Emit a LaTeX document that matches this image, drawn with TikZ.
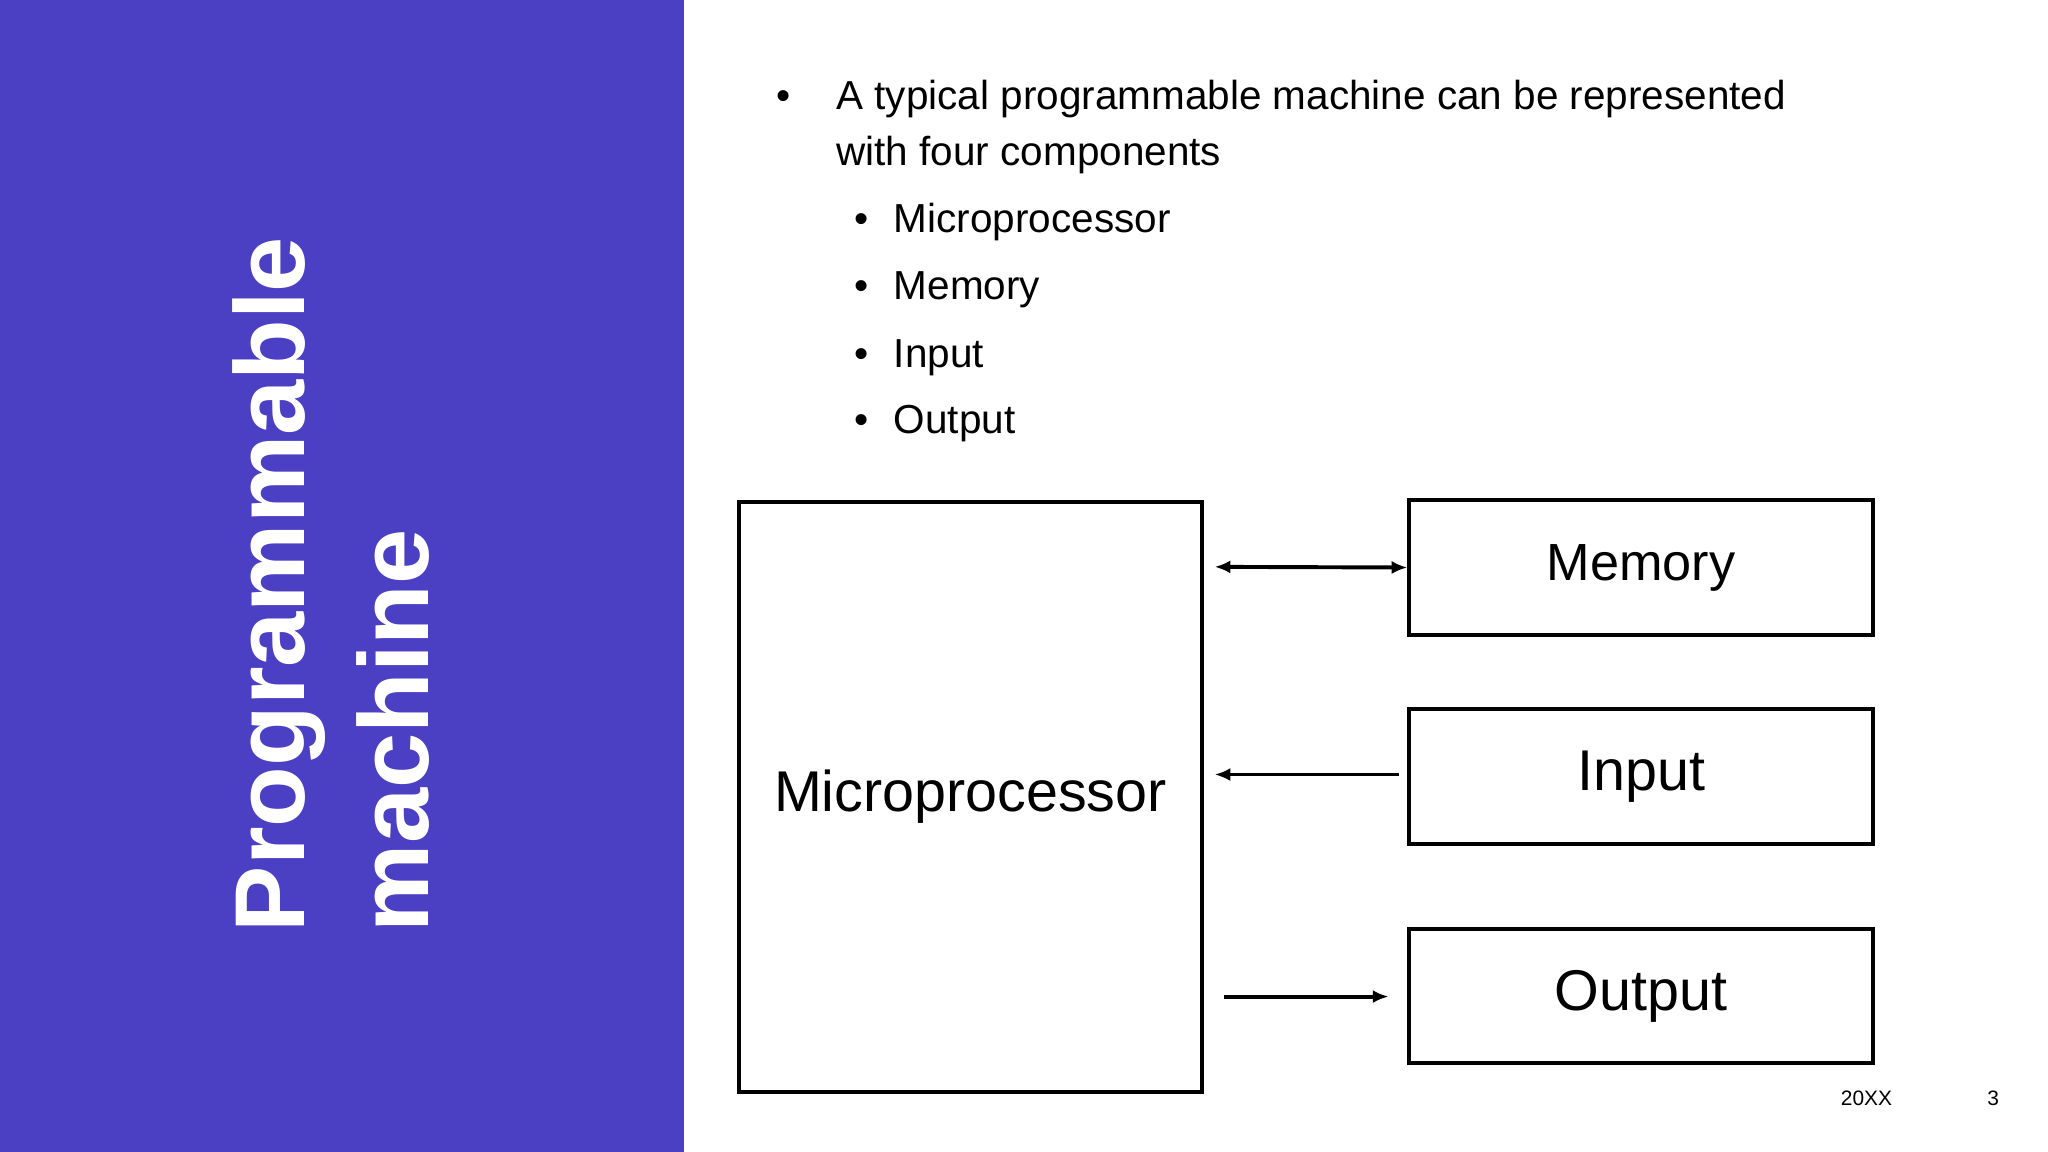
\documentclass[tikz,border=0pt]{standalone}
\usepackage{fontspec}
\setmainfont{Liberation Sans}
\usetikzlibrary{arrows.meta}
\definecolor{panel}{HTML}{4B3FC4}
\begin{document}
\begin{tikzpicture}[x=0.5pt,y=-0.5pt,
  box/.style={draw=black,line width=1.5pt,inner sep=0pt},
  con/.style={line width=1.5pt,-{Latex[length=6pt,width=5pt]}},
  bul/.style={anchor=base west,inner sep=0pt,font=\fontsize{15.5}{18}\selectfont},
  ttl/.style={rotate=90,anchor=base west,inner sep=0pt,text=white,font=\fontsize{38}{44}\bfseries\selectfont}]
\useasboundingbox (0,0) rectangle (1568,882);
\fill[white] (0,0) rectangle (1568,882);
\fill[panel] (0,0) rectangle (524,882);
\node[ttl] (t1) at (233,714) {Programmable};
\node[ttl] (t2) at (328,714) {machine};
\node[bul] (b0) at (594,84) {•};
\node[bul] (l1) at (640,84) {A typical programmable machine can be represented};
\node[bul] (l2) at (640,127) {with four components};
\node[bul] (s1d) at (654,178) {•};\node[bul] (s1) at (684,178) {Microprocessor};
\node[bul] (s2d) at (654,229) {•};\node[bul] (s2) at (684,229) {Memory};
\node[bul] (s3d) at (654,281) {•};\node[bul] (s3) at (684,281) {Input};
\node[bul] (s4d) at (654,332) {•};\node[bul] (s4) at (684,332) {Output};
\node[box,minimum width=177pt,minimum height=226pt,font=\fontsize{22}{26}\selectfont] (mp) at (743,610) {Microprocessor};
\node[box,minimum width=177.5pt,minimum height=51.5pt,font=\fontsize{20}{24}\selectfont] (mem) at (1256.5,434.5) {Memory};
\node[box,minimum width=177.5pt,minimum height=51.5pt,font=\fontsize{22}{26}\selectfont] (in) at (1256.5,594.5) {Input};
\node[box,minimum width=177.5pt,minimum height=51.5pt,font=\fontsize{22}{26}\selectfont] (out) at (1256.5,762.5) {Output};
\coordinate (a1) at (930,434);
\coordinate (a2) at (930,593);\coordinate (a2s) at (1071,593);
\coordinate (a3) at (937,763);\coordinate (a3e) at (1063,763);
\draw[con,{Latex[length=6pt,width=5pt]}-{Latex[length=6pt,width=5pt]}] (a1) -- (mem.west);
\draw[con] (a2s) -- (a2);
\draw[con] (a3) -- (a3e);
\node[inner sep=0pt,font=\fontsize{8}{10}\selectfont] (f1) at (1429,841) {20XX};
\node[inner sep=0pt,font=\fontsize{8}{10}\selectfont] (f2) at (1526,841) {3};
\end{tikzpicture}
\end{document}
